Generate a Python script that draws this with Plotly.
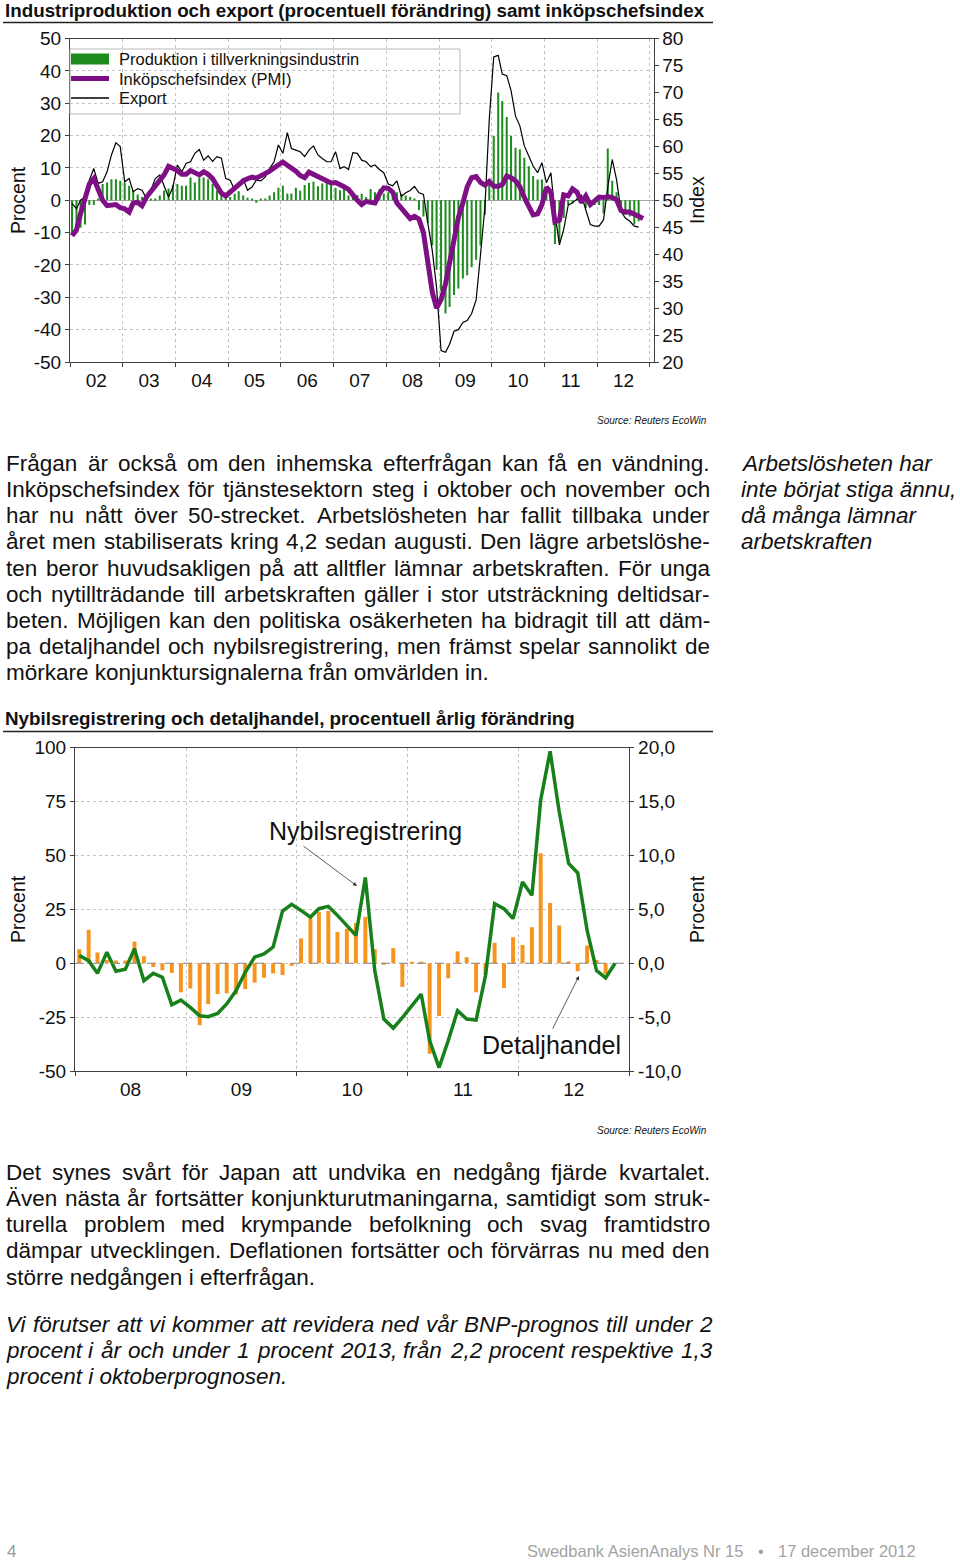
import pandas as pd
import plotly.graph_objects as go

W, H = 960, 1561
FONT = "Arial, 'Liberation Sans', Helvetica, sans-serif"

# ---------------- Chart 1: Japan industry (monthly, Jan 2002 - Nov 2012) ----------------
chart1_start = "2002-01-01"
production = [  # % yoy, Jan 2002 - Oct 2012
    -10, -9.5, -8.5, -7.5, -1.5, -1.5, 0.5, 5, 5.5, 6.5, 6.5, 6,
    5.4, 4.5, 3, 1.8, 1, 0.5, 0.3, 0.5, 1.5, 3, 3.6, 4.7,
    5, 4.5, 4.5, 7, 5.5, 7, 7, 6.5, 5, 3, 1.5, 2,
    1, 2, 2.8, 1.5, 0.8, 0.5, -0.8, 0.3, 0.5, 1.5, 2.5, 3.9,
    4.5, 2.1, 2.1, 3.9, 2.9, 4.7, 5.4, 5.7, 4.3, 5.2, 6, 4.7,
    3.9, 3.1, 3.6, 1.5, 2.6, 1.6, 2, 1, 3.5, 2.5, 3.5, 2,
    2.5, 3, 2.5, 2, 1.5, 1, 0.5, -3, -5, -7, -14, -21.5,
    -28, -35, -33, -29.3, -27.3, -24.2, -23.2, -20.7, -18.4, -14, -4.5, 5,
    19.9, 33.3, 30.7, 25.7, 19.9, 16.2, 15.7, 13.1, 10.5, 7.5, 6.4, 6.4,
    3.5, 3, -13.5, -13, -5.5, -1.5, -1, 0.3, -1, -2.5, -2, -1.5,
    -1.5, -4, 16, 6, 2.5, -2, -4.5, -5, -7.5, -6.5,
]
export = [  # % yoy, Jan 2002 - Oct 2012
    -1, -2.6, 0, 1, 6.2, 9.8, 5.2, 5.7, 8.8, 14, 17.8, 16.6,
    5.7, 6.7, 2.6, 3.6, 3.1, 0.5, 3.1, 6.7, 7.8, 4.3, 1, 4.1,
    10.9, 8.8, 11.4, 11.9, 14.5, 15.7, 12.4, 13.7, 12, 13.5, 13, 6.7,
    6.2, 3.1, 5.2, 6.7, 3.1, 4.1, 6.2, 6, 7.2, 9.8, 11.9, 17.1,
    14.5, 20.9, 16, 15.5, 15, 13.5, 15.5, 16.8, 14, 12.9, 11.9, 11.9,
    15, 9.8, 10.4, 9.5, 14.7, 14.5, 12.4, 11.9, 10.4, 10.9, 9.5, 8.5,
    5, 4.5, 6, 1.2, 2.3, 3, 4.3, 2.3, 1.8, -7, -15.5, -27,
    -46.5, -47, -44.5, -40.5, -40, -37.8, -37.2, -35, -30.8, -17, -2, 25,
    44.3, 44.8, 39, 38.5, 33.9, 26, 23, 16.8, 13.7, 10.6, 8.5, 11.6,
    5.4, 8.5, -4, -13.8, -9, -1.5, -0.8, 0.5, 1.5, -3, -7.5, -8,
    -8, -6, 4, 12.6, 6.4, -3.5, -5.5, -6.5, -8, -8.3,
]
pmi = [  # index, Jan 2002 - Nov 2012
    43.4, 44.5, 47.5, 50.5, 53, 54, 51.8, 50, 49, 49, 49.2, 48.6,
    48.4, 47.8, 49.5, 49.6, 49, 50.6, 51.6, 52.5, 53.4, 54.7, 56.3, 56,
    55.5, 54.8, 54.8, 55.5, 55.2, 54.7, 55.3, 54.8, 54, 52.8, 51.3, 50.8,
    51.5, 52.5, 53, 53.6, 54, 54.3, 54.1, 54.5, 54.9, 55.4, 56, 56.6,
    57.1, 56.5, 56, 55.4, 54.6, 54.2, 55.2, 54.8, 54.4, 53.9, 53.5, 53.2,
    53.3, 53, 52.5, 52, 50.9, 50, 49.2, 49.8, 49.6, 49.5, 51.2, 52.3,
    52.2, 51.5, 49.5, 48.6, 47.5, 46.6, 47, 46.5, 44, 38, 33, 30,
    31.6, 34.5, 38.3, 42.5, 46.8, 49.5, 52.5, 54.2, 54.4, 53.3, 52.8, 53.5,
    52.6, 52.6, 52.9, 54.5, 54.2, 53.6, 52.5, 50.5, 49.1, 47.3, 47.5, 49.2,
    52.4, 51.5, 46, 46.3, 51, 50.8, 52.1, 51.5, 49.6, 50.8, 49.2, 50,
    50.6, 50.5, 50.7, 50.5, 50.1, 48.1, 47.8, 47.8, 47.4, 47, 46.6,
]
c1_left_vals = [50, 40, 30, 20, 10, 0, -10, -20, -30, -40, -50]
c1_left_text = ["50", "40", "30", "20", "10", "0", "-10", "-20", "-30", "-40", "-50"]
c1_right_vals = [80, 75, 70, 65, 60, 55, 50, 45, 40, 35, 30, 25, 20]
c1_right_text = ["80", "75", "70", "65", "60", "55", "50", "45", "40", "35", "30", "25", "20"]
c1_names = ["Produktion i tillverkningsindustrin", "Inköpschefsindex (PMI)", "Export"]

# ---------------- Chart 2: car registrations & retail (monthly, Jan 2008 - Nov 2012) -------
chart2_start = "2008-01-01"
retail = [  # Detaljhandel, % yoy (right axis), Jan 2008 - Oct 2012
    1.3, 3.1, 1.0, 0.3, 0.25, 0.25, 2.0, 0.65, -0.35, -0.65, -0.9, -2.7,
    -2.35, -5.75, -3.8, -2.85, -2.8, -2.9, -2.4, -1.8, -1.35, -0.95, -1.1, -0.25,
    2.3, 4.15, 4.75, 4.85, 2.9, 3.2, 3.75, 4.3, 1.3, -0.12, 1.4, -2.2,
    0.06, 0.05, -8.4, -4.9, -1.4, 1.1, 0.56, -2.7, -1.1, 1.9, -2.3, 2.4,
    1.7, 3.35, 10.2, 5.6, 3.5, 0.15, -0.75, 1.65, 0.3, -1.0,
]
cars = [  # Nybilsregistrering, % yoy (left axis), Jan 2008 - Nov 2012
    3.6, 1.2, -4.7, 5.1, -3.7, -2.8, 6.7, -8.1, -4.7, -6.5, -19.3, -17.1,
    -20.5, -24.4, -24.8, -23.3, -18.9, -12.7, -4.2, 2.8, 4.3, 7.5, 24.2, 27.3,
    24.5, 21.4, 25.3, 26.4, 22.2, 17.5, 12.9, 39.8, -3.4, -25.9, -30.1, -25.2,
    -19.7, -14.3, -36, -48.4, -36, -22, -25.9, -26.4, -5.7, 27.6, 25.3, 20.7,
    37.7, 31.5, 75.8, 98.3, 70.3, 46.3, 41.9, 15.2, -3.4, -6.8, 0,
]
c2_left_vals = [100, 75, 50, 25, 0, -25, -50]
c2_left_text = ["100", "75", "50", "25", "0", "-25", "-50"]
c2_right_vals = [20, 15, 10, 5, 0, -5, -10]
c2_right_text = ["20,0", "15,0", "10,0", "5,0", "0,0", "-5,0", "-10,0"]

# ---------------- Page text ----------------
title1 = "Industriproduktion och export (procentuell förändring) samt inköpschefsindex"
title2 = "Nybilsregistrering och detaljhandel, procentuell årlig förändring"
source = "Source: Reuters EcoWin"
para1 = [
    "Frågan är också om den inhemska efterfrågan kan få en vändning.",
    "Inköpschefsindex för tjänstesektorn steg i oktober och november och",
    "har nu nått över 50-strecket. Arbetslösheten har fallit tillbaka under",
    "året men stabiliserats kring 4,2 sedan augusti. Den lägre arbetslöshe-",
    "ten beror huvudsakligen på att alltfler lämnar arbetskraften. För unga",
    "och nytillträdande till arbetskraften gäller i stor utsträckning deltidsar-",
    "beten. Möjligen kan den politiska osäkerheten ha bidragit till att däm-",
    "pa detaljhandel och nybilsregistrering, men främst spelar sannolikt de",
    "mörkare konjunktursignalerna från omvärlden in.",
]
sidenote = ["Arbetslösheten har", "inte börjat stiga ännu,", "då många lämnar", "arbetskraften"]
para2 = [
    "Det synes svårt för Japan att undvika en nedgång fjärde kvartalet.",
    "Även nästa år fortsätter konjunkturutmaningarna, samtidigt som struk-",
    "turella problem med krympande befolkning och svag framtidstro",
    "dämpar utvecklingen. Deflationen fortsätter och förvärras nu med den",
    "större nedgången i efterfrågan.",
]
para3 = [
    "Vi förutser att vi kommer att revidera ned vår BNP-prognos till under 2",
    "procent i år och under 1 procent 2013, från 2,2 procent respektive 1,3",
    "procent i oktoberprognosen.",
]
footer_left = "4"
footer_pub = "Swedbank AsienAnalys Nr 15"
footer_date = "17 december 2012"

# ---------------- helpers ----------------
def X(px):
    return px / W


def Y(py):
    return 1 - py / H


AW = {' ': 278, 'a': 556, 'b': 556, 'c': 500, 'd': 556, 'e': 556, 'f': 278, 'g': 556, 'h': 556,
      'i': 222, 'j': 222, 'k': 500, 'l': 222, 'm': 833, 'n': 556, 'o': 556, 'p': 556, 'q': 556,
      'r': 333, 's': 500, 't': 278, 'u': 556, 'v': 500, 'w': 722, 'x': 500, 'y': 500, 'z': 500,
      'å': 556, 'ä': 556, 'ö': 556, 'A': 667, 'B': 667, 'C': 722, 'D': 722, 'E': 667, 'F': 611,
      'G': 778, 'H': 722, 'I': 278, 'J': 500, 'K': 667, 'L': 556, 'M': 833, 'N': 722, 'O': 778,
      'P': 667, 'Q': 778, 'R': 722, 'S': 667, 'T': 611, 'U': 722, 'V': 667, 'W': 944, 'X': 667,
      'Y': 667, 'Z': 611, 'Ä': 667, 'Å': 667, 'Ö': 778, '.': 278, ',': 278, '-': 333, '(': 333,
      ')': 333, ':': 278}


def tw(s, size):
    return sum(AW.get(c, 556) for c in s) * size / 1000.0


annotations = []
shapes = []


def txt(s, x, y, size, anchor='left', color='#111111', angle=0, yanchor='middle'):
    annotations.append(dict(text=s, x=X(x), y=Y(y), xref='paper', yref='paper',
                            xanchor=anchor, yanchor=yanchor, showarrow=False,
                            textangle=angle, borderpad=0, borderwidth=0,
                            font=dict(family=FONT, size=size, color=color)))


def justify(line, x0, x1, y, size, italic=False, last=False):
    wrap = (lambda s: "<i>" + s + "</i>") if italic else (lambda s: s)
    if last:
        txt(wrap(line), x0, y, size)
        return
    words = line.split(' ')
    ws = [tw(w, size) for w in words]
    gap = (x1 - x0 - sum(ws)) / (len(words) - 1)
    x = x0
    for w, wd in zip(words, ws):
        txt(wrap(w), x, y, size)
        x += wd + gap


def hline(x0, x1, y, color, width, dash='solid'):
    shapes.append(dict(type='line', xref='paper', yref='paper', x0=X(x0), x1=X(x1),
                       y0=Y(y), y1=Y(y), line=dict(color=color, width=width, dash=dash)))


# ---------------- traces ----------------
m1 = pd.date_range(chart1_start, periods=len(pmi), freq="MS") + pd.Timedelta(days=14)
m2 = pd.date_range(chart2_start, periods=len(cars), freq="MS") + pd.Timedelta(days=14)
DAY = 86400000

GREEN_BAR = "#1d8c1d"
PURPLE = "#7f0f84"
ORANGE = "#f7941d"
GREEN_LINE = "#17801a"

fig = go.Figure()
fig.add_trace(go.Bar(x=m1[:len(production)], y=production, name=c1_names[0], marker_color=GREEN_BAR,
                     marker_line_width=0, width=14 * DAY, xaxis='x', yaxis='y'))
fig.add_trace(go.Scatter(x=m1[:len(export)], y=export, name=c1_names[2], mode='lines',
                         line=dict(color='black', width=1.2), xaxis='x', yaxis='y'))
fig.add_trace(go.Scatter(x=m1, y=pmi, name=c1_names[1], mode='lines',
                         line=dict(color=PURPLE, width=5), xaxis='x', yaxis='y2'))
fig.add_trace(go.Bar(x=m2[:len(retail)], y=retail, name="Detaljhandel", marker_color=ORANGE,
                     marker_line_width=0, width=13 * DAY, xaxis='x2', yaxis='y3'))
fig.add_trace(go.Scatter(x=m2, y=cars, name="Nybilsregistrering", mode='lines',
                         line=dict(color=GREEN_LINE, width=3.5), xaxis='x2', yaxis='y4'))

AX = '#404040'
GRID = '#c4c4c4'
TICKF = dict(family=FONT, size=19, color='#111111')

# ---------------- page texts & decorations ----------------
txt("<b>" + title1 + "</b>", 5, 10.5, 18.8)
hline(3, 713, 22.5, '#222222', 1.5)
txt("<b>" + title2 + "</b>", 5, 718, 18.8)
hline(3, 713, 731.5, '#222222', 1.5)
txt("<i>" + source + "</i>", 707, 421, 10, anchor='right')
txt("<i>" + source + "</i>", 707, 1130, 10, anchor='right')

# chart 1 legend
shapes.append(dict(type='rect', xref='paper', yref='paper', x0=X(70), x1=X(460), y0=Y(114), y1=Y(49),
                   line=dict(color='#b8b8b8', width=1), fillcolor='rgba(0,0,0,0)'))
shapes.append(dict(type='rect', xref='paper', yref='paper', x0=X(71), x1=X(109), y0=Y(64.5), y1=Y(53.5),
                   line=dict(width=0), fillcolor=GREEN_BAR))
hline(71, 109, 78.5, PURPLE, 5)
hline(71, 109, 98, 'black', 1.3)
txt(c1_names[0], 119, 59.3, 16.5)
txt(c1_names[1], 119, 78.8, 16.5)
txt(c1_names[2], 119, 98.3, 16.5)

# axis titles
txt("Procent", 18, 200, 19.5, anchor='center', angle=-90)
txt("Index", 697, 200, 19.5, anchor='center', angle=-90)
txt("Procent", 18, 909, 19.5, anchor='center', angle=-90)
txt("Procent", 697, 909, 19.5, anchor='center', angle=-90)

# chart 2 labels with arrows
txt("Nybilsregistrering", 365.5, 831, 25, anchor='center')
txt("Detaljhandel", 551, 1045, 25, anchor='center')
annotations.append(dict(text="", x=X(357), y=Y(886), xref='paper', yref='paper', ax=-55, ay=-41,
                        showarrow=True, arrowhead=2, arrowsize=1, arrowwidth=0.8, arrowcolor='#333333'))
annotations.append(dict(text="", x=X(579), y=Y(976), xref='paper', yref='paper', ax=-27, ay=54,
                        showarrow=True, arrowhead=2, arrowsize=1, arrowwidth=0.8, arrowcolor='#333333'))

# zero reference line chart 2
shapes.append(dict(type='line', xref='x2 domain', yref='y3', x0=0, x1=1, y0=0, y1=0,
                   line=dict(color='#8a8a8a', width=1, dash='dash')))

# body text
FS = 22.5
LH = 26.25
for k, line in enumerate(para1):
    justify(line, 6, 710, 463 + k * LH, FS, last=(k == len(para1) - 1))
for k, line in enumerate(sidenote):
    txt("<i>" + line + "</i>", 741, 463 + k * LH, FS)
for k, line in enumerate(para2):
    justify(line, 6, 710, 1172 + k * LH, FS, last=(k == len(para2) - 1))
for k, line in enumerate(para3):
    justify(line, 6, 712, 1324 + k * LH, FS, italic=True, last=(k == len(para3) - 1))

# footer
txt(footer_left, 11, 1551, 17, anchor='center', color='#9a9a9a')
txt(footer_pub, 527, 1551, 16.5, color='#a3a3a3')
txt("•", 761, 1551, 16.5, anchor='center', color='#a3a3a3')
txt(footer_date, 916, 1551, 16.5, anchor='right', color='#a3a3a3')

common_axis = dict(automargin=False, tickfont=TICKF, ticks='outside', ticklen=4, tickcolor=AX,
                   showline=True, linecolor=AX, linewidth=1)

fig.update_layout(
    width=W, height=H, autosize=False,
    margin=dict(l=0, r=0, t=0, b=0, pad=0, autoexpand=False),
    paper_bgcolor='white', plot_bgcolor='white', showlegend=False,
    font=dict(family=FONT, size=19, color='#111111'), barmode='overlay',
    xaxis=dict(domain=[X(70), X(653.5)], anchor='y', type='date',
               range=["2002-01-01", "2013-01-26"], tick0="2002-01-01", dtick="M12",
               tickformat="%y", ticklabelmode='period', ticklabelstandoff=-3,
               showgrid=True, gridcolor=GRID, griddash='dot', gridwidth=1, mirror=True,
               **common_axis),
    yaxis=dict(domain=[Y(362), Y(38.5)], anchor='x', range=[-50, 50],
               tickvals=c1_left_vals, ticktext=c1_left_text,
               showgrid=True, gridcolor=GRID, griddash='dot', gridwidth=1,
               zeroline=True, zerolinecolor='#a8a8a8', zerolinewidth=1, **common_axis),
    yaxis2=dict(overlaying='y', side='right', anchor='x', range=[20, 80],
                tickvals=c1_right_vals, ticktext=c1_right_text,
                showgrid=False, zeroline=False, **common_axis),
    xaxis2=dict(domain=[X(75), X(629.3)], anchor='y3', type='date',
                range=["2008-01-01", "2013-01-01"], tick0="2008-01-01", dtick="M12",
                tickformat="%y", ticklabelmode='period', ticklabelstandoff=-3,
                showgrid=True, gridcolor=GRID, griddash='dot', gridwidth=1, mirror=True,
                **common_axis),
    yaxis3=dict(domain=[Y(1071), Y(747.7)], anchor='x2', side='right', range=[-10, 20],
                tickvals=c2_right_vals, ticktext=c2_right_text,
                showgrid=True, gridcolor=GRID, griddash='dot', gridwidth=1, zeroline=False,
                **common_axis),
    yaxis4=dict(overlaying='y3', side='left', anchor='x2', range=[-50, 100],
                tickvals=c2_left_vals, ticktext=c2_left_text,
                showgrid=False, zeroline=False, **common_axis),
    annotations=annotations, shapes=shapes,
)

fig.write_html("out.html", include_plotlyjs=True, full_html=True,
               config={'displayModeBar': False},
               post_script="document.body.style.margin='0';")
